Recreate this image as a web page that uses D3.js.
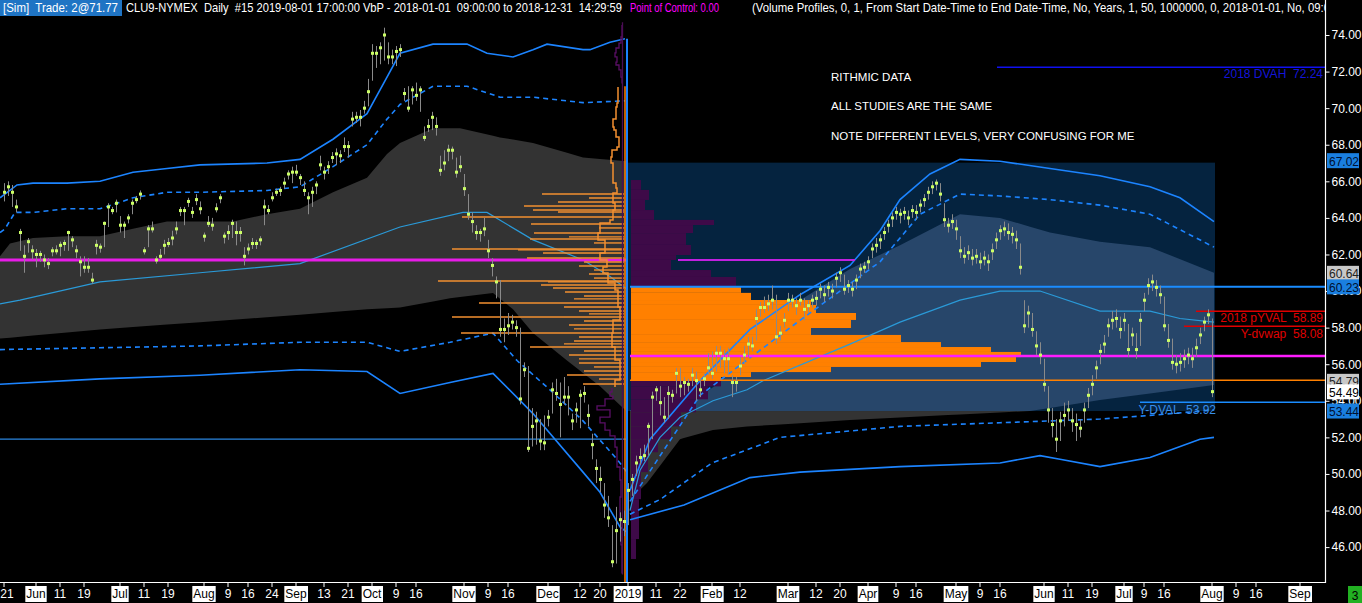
<!DOCTYPE html>
<html><head><meta charset="utf-8">
<script src="https://cdn.jsdelivr.net/npm/d3@7"></script>
<style>html,body{margin:0;padding:0;background:#000;overflow:hidden}text{font-family:"Liberation Sans",Arial,sans-serif}</style>
</head><body><svg id="c" width="1362" height="603"></svg>
<script>
// ---------- DATA ----------
const closes=[65.4,65.7,65.4,64.6,63.2,61.9,62.7,62.2,62.0,62.0,61.7,61.5,62.2,62.2,62.5,62.6,63.2,62.8,62.2,61.6,
61.3,61.3,60.6,62.5,62.4,63.7,64.6,64.4,64.8,63.6,63.6,64.0,64.8,65.0,65.3,62.2,63.4,63.4,61.7,61.9,
62.5,62.6,62.9,63.4,64.4,64.4,64.9,64.3,65.0,64.5,63.0,63.7,63.6,64.5,65.1,63.0,63.2,63.7,63.2,63.2,
61.9,62.3,62.6,62.6,62.8,64.6,64.4,65.1,65.4,65.5,65.9,66.4,66.5,66.5,66.2,65.5,65.1,65.4,65.8,66.9,
66.5,66.8,67.3,67.5,67.4,67.9,67.9,69.4,69.5,69.5,70.0,70.9,73.0,73.0,73.3,74.0,72.8,72.8,73.1,73.2,
70.8,70.0,71.0,70.7,71.0,68.4,69.0,69.5,69.0,66.6,67.0,67.7,67.7,66.5,66.8,65.6,64.2,63.8,63.2,63.2,
63.4,62.2,61.4,60.5,57.9,57.9,58.1,58.3,58.0,54.1,55.7,51.4,52.6,52.9,51.8,51.7,53.1,54.6,54.4,53.8,
54.2,54.2,52.9,53.5,54.3,54.4,53.2,51.6,50.3,49.7,48.3,47.6,45.2,46.9,47.5,47.4,49.1,49.7,50.6,50.9,
51.0,52.6,54.2,54.6,53.9,53.1,54.4,54.3,55.5,54.8,55.0,54.9,55.4,55.1,54.6,55.2,55.8,55.5,56.6,56.6,
56.3,56.3,55.0,55.0,55.9,56.5,57.1,57.0,58.5,59.1,59.1,59.3,59.5,57.5,57.7,58.4,59.5,59.5,59.2,59.5,
59.0,59.2,59.5,59.6,60.1,59.8,60.2,60.0,60.7,61.0,60.1,60.3,60.1,60.6,61.2,61.3,61.6,62.3,62.5,62.8,
63.2,63.6,64.0,64.3,64.2,64.3,64.0,64.4,64.3,64.7,65.0,65.4,65.7,65.9,65.3,63.9,63.6,63.8,63.4,62.2,
61.9,62.1,61.8,61.9,61.6,61.8,61.6,62.2,62.8,63.3,63.4,63.2,63.1,62.8,61.3,58.1,58.8,57.9,57.0,56.5,
54.9,53.5,52.7,51.9,52.9,53.2,53.5,52.9,52.7,52.5,53.5,54.3,54.9,55.8,56.7,57.1,58.1,58.4,58.5,57.9,
58.4,56.8,57.6,56.8,58.4,59.5,60.3,60.5,60.2,59.8,58.1,57.3,56.1,56.0,56.1,56.3,56.5,56.3,56.9,57.6,
58.3,58.7,54.5];
const highs=[65.9,66.0,65.8,65.0,63.4,62.5,62.9,62.5,62.3,62.2,62.0,61.8,62.4,62.5,62.7,62.8,63.3,63.0,62.5,61.9,
61.9,61.8,61.0,62.8,62.6,63.8,64.8,64.6,65.0,64.1,63.8,64.2,65.0,65.2,65.5,62.4,63.6,63.8,61.9,62.3,
62.8,62.9,63.3,63.8,64.6,64.6,65.1,64.6,65.3,64.9,63.2,64.1,64.0,64.8,65.3,63.2,63.6,63.9,63.8,63.5,
62.4,62.6,62.9,62.8,63.0,65.0,64.7,65.4,65.6,65.7,66.2,66.6,66.8,66.9,66.4,66.0,65.4,65.7,66.0,67.4,
66.8,67.1,67.6,67.8,67.7,68.4,68.2,69.8,69.8,69.9,70.4,71.6,73.5,73.4,73.6,74.4,73.6,73.2,73.4,73.5,
71.1,71.2,71.2,71.4,71.2,69.0,69.4,69.8,69.5,67.4,67.7,68.0,67.9,67.3,67.4,66.4,65.3,64.3,63.6,63.4,
64.0,62.8,61.8,60.8,60.6,58.5,58.8,58.7,58.4,58.0,56.1,55.9,53.6,53.4,53.0,53.2,53.5,55.0,55.2,55.0,
55.3,54.8,53.3,53.9,54.6,54.8,53.8,52.2,50.8,50.4,49.5,48.8,47.2,48.2,47.9,48.0,49.5,50.0,51.0,51.4,
51.6,52.8,54.5,54.8,54.8,54.2,54.8,54.6,55.8,55.8,55.3,55.2,55.8,55.6,55.2,55.5,56.6,56.7,57.0,57.0,
56.8,56.9,55.4,55.3,56.4,57.0,57.5,57.5,59.0,59.4,59.7,59.8,60.3,59.8,58.1,58.8,59.9,59.8,59.6,59.9,
59.6,59.5,59.8,60.0,60.4,60.3,60.5,60.4,61.0,61.3,60.9,60.6,60.5,60.9,61.5,61.6,61.9,62.6,62.9,63.1,
63.5,63.9,64.3,64.6,64.5,64.6,64.4,64.7,64.7,65.0,65.3,65.7,66.0,66.1,65.9,64.8,64.0,64.2,63.9,63.0,
62.4,62.5,62.3,62.3,62.1,62.2,62.0,62.6,63.2,63.6,63.8,63.7,63.5,63.3,62.6,59.5,59.2,58.8,57.8,57.2,
56.3,54.8,53.6,53.0,53.4,53.9,54.0,53.6,53.3,53.0,53.9,54.7,55.4,56.2,57.1,57.6,58.5,58.9,59.0,58.6,
58.8,58.2,58.0,57.7,58.8,59.9,60.7,60.9,60.6,60.3,59.7,58.2,57.4,56.5,56.6,56.8,56.9,56.9,57.4,58.0,
58.6,59.0,58.5];
const lows=[64.9,65.2,64.6,64.3,62.2,61.0,62.1,61.7,61.3,61.6,61.3,61.2,61.9,62.0,61.9,62.2,62.2,62.4,61.8,60.8,
61.0,61.0,60.4,62.0,62.1,62.4,63.5,64.2,64.3,63.2,62.9,63.7,64.2,64.8,65.0,62.0,62.4,63.2,61.5,61.7,
62.0,62.4,62.5,63.1,64.1,63.6,64.6,64.0,64.7,64.2,62.7,63.5,63.3,64.3,64.8,62.6,62.8,62.9,62.5,62.7,
61.4,62.0,62.3,62.3,62.5,63.6,64.2,64.9,65.2,65.2,65.6,66.1,65.9,66.3,65.8,65.2,64.2,64.6,65.3,66.6,
66.1,66.4,67.0,66.9,67.0,67.6,67.3,69.0,69.2,69.0,69.7,70.1,71.5,72.2,72.4,72.6,72.4,72.4,72.3,72.8,
70.4,69.8,70.2,70.4,69.8,68.2,68.7,68.8,68.5,66.3,66.6,67.1,67.2,66.2,66.5,65.2,63.9,63.2,62.8,62.7,
63.0,61.8,60.8,59.6,57.5,57.2,57.6,57.9,57.5,53.8,55.3,51.2,51.5,51.6,51.3,51.3,52.6,53.3,54.0,52.0,
53.8,53.2,52.4,52.8,52.5,53.9,52.6,50.8,49.5,49.0,47.6,47.1,44.9,45.1,46.3,46.6,47.2,48.8,49.9,50.5,
50.7,51.0,51.9,54.0,53.2,52.8,53.0,53.9,54.4,54.2,54.3,54.5,54.8,54.0,54.2,54.8,55.4,55.2,55.6,55.8,
55.5,55.4,54.2,54.5,55.4,56.0,56.4,56.7,57.3,58.6,58.8,58.9,59.0,57.1,57.3,58.0,58.9,59.1,58.7,59.2,
58.4,58.8,59.1,59.2,59.6,59.4,59.7,59.6,60.2,60.5,59.8,59.9,59.7,60.1,60.7,61.0,61.2,61.8,62.1,62.3,
62.8,63.2,63.5,63.9,63.7,63.9,63.6,64.0,63.9,64.3,64.6,65.0,65.3,65.5,64.9,63.5,63.2,63.4,62.8,61.8,
61.5,61.7,61.4,61.5,61.2,61.4,61.1,61.7,62.3,62.8,63.0,62.8,62.6,62.3,60.9,57.7,58.0,57.5,56.5,56.0,
54.5,52.8,52.0,51.2,51.8,52.6,52.9,52.3,51.8,52.0,52.8,53.6,54.3,55.2,56.0,56.6,57.5,57.9,58.0,57.4,
57.8,56.4,57.0,56.3,57.0,58.9,59.8,60.0,59.7,59.3,57.8,56.9,55.7,55.5,55.6,55.8,56.0,55.8,56.4,57.1,
57.8,58.2,54.2];

// x-axis tick labels (bar index of each label)
const tickText=["21","Jun","11","19","Jul","11","19","Aug","9","16","24","Sep","13","21","Oct","9","16","Nov","9","16","Dec","12","20","2019","11","22","Feb","12","Mar","12","20","Apr","9","16","May","9","16","Jun","11","19","Jul","9","16","Aug","9","16","Sep"];
const tickIdx=[0,8,14,20,29,35,41,50,56,61,67,73,80,86,92,98,103,115,121,126,136,144,149,156,163,169,177,184,196,203,209,216,223,228,238,244,249,260,266,272,280,285,290,302,308,313,324];
const monthLabels=["Jun","Jul","Aug","Sep","Oct","Nov","Dec","2019","Feb","Mar","Apr","May"];
const priceTicks=[46,48,50,52,54,56,58,60,62,64,66,68,70,72,74];

// 2018 study bands: [bar index, price]
const upper2018=[[-1,65.1],[3.25,65.8],[7.25,65.9],[15.75,65.9],[24,66.0],[32.25,66.5],[40.75,66.7],[49,66.9],[65.75,67.0],[74,67.2],[82.25,68.3],[90.75,69.7],[95.75,71.7],[99,73.0],[107.25,73.5],[115.75,73.5],[120.75,73.0],[127.25,72.8],[132.25,73.2],[135.75,73.5],[144.75,73.2],[146.5,73.2],[151.5,73.6],[155.25,73.8]];
const upperDash2018=[[-1,63.2],[0.25,63.4],[2.75,64.3],[7.25,64.3],[15.75,64.5],[24,64.5],[28.25,64.8],[32.25,65.1],[40.75,65.4],[49,65.4],[65.75,65.5],[74,65.7],[82.25,66.8],[90.75,68.0],[95.75,69.4],[99,70.2],[107.25,71.2],[115.75,71.2],[124,70.6],[132.25,70.6],[144.75,70.3],[155.25,70.4]];
const grayTop2018=[[-1,61.9],[1.5,62.6],[7.25,62.9],[15.75,63.0],[24,63.0],[32.25,63.4],[40.75,63.8],[57.25,63.8],[65.75,64.2],[74,64.5],[82.25,65.4],[90.75,66.2],[95.75,67.5],[99,68.1],[107.25,68.9],[114,68.9],[124,68.4],[132.25,68.1],[144.75,67.3],[155.75,67.1]];
const grayBot2018=[[-1,57.4],[24,57.9],[49,58.3],[74,58.7],[90.75,59.0],[99,59.1],[111.5,59.6],[122.25,59.9],[127.25,59.0],[132.25,57.7],[140.75,56.2],[149,54.8],[155.75,53.4]];
const lowerDash2018=[[-1,56.8],[24,56.9],[49,57.0],[74,57.2],[90.75,57.2],[99,56.7],[111.5,57.2],[122.25,57.7],[128.25,56.2],[136.5,54.6],[144.75,52.9],[153.25,50.8],[155.75,50.1]];
const lower2018=[[-1,54.9],[24,55.2],[49,55.4],[74,55.7],[90.75,55.6],[99,54.4],[111.5,55.0],[122.25,55.5],[132.25,53.3],[144.75,50.1],[149,49.0],[154,47.1],[155.75,46.8]];
const vwap2018=[[-1,59.3],[4,59.5],[24,60.5],[49,61.0],[74,61.5],[99,63.5],[114.75,64.3],[120.75,64.3],[132.25,62.8],[144.75,61.7],[151.5,60.8],[155.75,60.1]];

// 2019 study bands
const upper2019=[[156.5,49.1],[161.5,51.9],[174,55.1],[186.5,57.9],[199,59.8],[211.5,61.4],[219,63.3],[224,65.0],[231.5,66.4],[239,67.2],[249,67.1],[261.5,66.7],[274,66.3],[286.5,65.7],[294,65.1],[302.5,63.8]];
const upperDash2019=[[156.5,48.5],[174,54.3],[199,58.4],[219,61.6],[229,64.2],[239,65.3],[249,65.2],[261.5,65.0],[274,64.7],[286.5,64.2],[302.5,62.4]];
const grayTop2019=[[156.5,53.5],[169.75,53.6],[179,55.0],[189,57.9],[199,59.5],[211.5,61.2],[224,62.5],[239,64.2],[249,64.0],[261.5,63.2],[274,62.7],[286.5,62.4],[302.5,61.0]];
const grayBot2019=[[156.5,48.6],[160.75,49.5],[169,51.9],[177.25,52.4],[185.75,52.6],[194,52.7],[211.5,52.95],[236,53.22],[256.5,53.44],[274,54.04],[302.5,54.86]];
const lowerDash2019=[[156.5,47.8],[164,48.6],[177,50.6],[194,52.0],[224,52.6],[249,52.8],[274,53.0],[286.5,53.2],[302.5,53.5]];
const lower2019=[[156.5,47.5],[170,48.3],[186.5,49.8],[199,50.1],[224,50.4],[249,50.6],[259,51.0],[264,50.8],[274,50.4],[286.5,50.9],[299,51.9],[302.5,52.0]];
const vwap2019=[[156.5,48.0],[159,50.2],[164,52.0],[169,53.1],[177.25,54.0],[185.75,54.6],[189.75,55.1],[211.5,57.1],[224,58.3],[239,59.5],[249,60.0],[259,60.0],[274,58.9],[286.5,58.9],[294,58.5],[302.5,58.3]];

// 2019 volume profile (row top price, relative volume)
const prof19Price=[66.07,65.53,64.98,64.43,63.89,63.61,63.17,62.52,61.97,61.70,61.15,60.77,
60.23,59.90,59.51,59.24,58.80,58.42,57.98,57.60,57.21,56.94,56.67,56.39,56.12,55.85,55.57,55.30,
55.12,54.79,54.08,53.37,52.60,51.90,51.19,50.10,48.62,46.44,45.35];
const prof19Vol=[10,18,14,23,83,62,55,60,45,40,80,105,
110,120,180,185,225,220,180,270,310,360,390,385,350,200,120,90,
90,77,65,50,40,27,17,10,8,5,0];

// 2018 volume profile: outline (price, relative volume) and individual heavy rows
const prof18Price=[71.16,70.72,70.28,70.06,69.41,68.97,68.81,68.42,67.88,67.71,67.33,67.00,66.62,66.24,65.91,65.63,65.36,64.82,64.43,63.89,
63.72,63.17,62.79,62.08,61.70,61.32,60.99,60.44,60.06,59.13,58.42,57.71,56.94,56.23,55.14,54.75];
const prof18Vol=[6,6,7,8,11,10,8,5,7,12,13,11,11,11,8,7,11,9,11,14,
24,26,19,24,17,21,16,9,6,4,11,12,9,4,9,9];
const rows18Price=[65.31,65.09,64.87,64.65,64.43,64.32,64.05,63.67,63.45,63.17,62.96,62.85,62.63,62.30,62.25,62.08,61.81,61.59,61.37,61.15,
60.93,60.71,60.55,60.50,60.33,60.17,59.95,59.73,59.57,59.35,59.13,58.91,58.75,58.58,58.36,58.14,57.93,57.71,57.49,57.27,
57.11,56.94,56.72,56.50,56.29,56.07,55.85,55.63,55.41,55.19,54.92];
const rows18Vol=[82,35,66,100,91,66,162,93,25,90,55,94,30,172,106,81,97,40,45,30,
35,30,186,76,83,71,59,40,50,145,60,45,35,172,40,55,50,163,45,50,
60,94,40,55,45,45,30,40,57,25,41];
const purple18TopPrice=[74.55,73.89,73.56,73.29,73.02,72.80,72.52,72.36,72.09,71.70,71.38];
const purple18TopVol=[2,3,5,8,9,7,8,5,3,2,1];
const purple18LowPrice=[54.70,54.48,54.26,54.10,53.72,53.50,53.11,52.79,52.40,52.08,51.47,50.38,49.67,48.74,47.48,46.12,44.59];
const purple18LowVol=[12,14,11,19,27,14,24,19,14,9,7,4,3,4,3,2,1];

// levels
const VA_HIGH=67.02, VA_LOW=53.44, VAH19=60.23, VAL19=55.12, POC19=56.45;
const POC18=61.70, DVAH18=72.24, PYVAL18=58.89, YDVWAP=58.08, YDVAL=53.92, LOW_LINE18=51.90;
const LAST_PRICE=54.49;

// ---------- DRAW ----------
const W=1362,H=603, PR=1325, PB=582;
const svg=d3.select("#c");
const x=d3.scaleLinear().domain([0,302]).range([4,1212]);
const y=d3.scaleLinear().domain([46,74]).range([547.1,35]);
const volX=d3.scaleLinear().domain([0,100]).range([0,100]);
const splitIdx=155.75, vaEnd=302.75;

svg.append("rect").attr("width",W).attr("height",H).attr("fill","#000");
const defs=svg.append("defs");
defs.append("clipPath").attr("id","plot").append("rect").attr("x",0).attr("y",0).attr("width",PR).attr("height",PB);
defs.append("clipPath").attr("id","box").append("rect")
  .attr("x",x(splitIdx)).attr("y",y(VA_HIGH)).attr("width",x(vaEnd)-x(splitIdx)).attr("height",y(VA_LOW)-y(VA_HIGH));
const g=svg.append("g").attr("clip-path","url(#plot)");

function band(top,bot){
  const ta=d3.area().x(d=>x(d[0])).y0(d=>y(d[2])).y1(d=>y(d[1]));
  const botX=bot.map(d=>d[0]), botY=bot.map(d=>d[1]);
  const topX=top.map(d=>d[0]), topY=top.map(d=>d[1]);
  const xs=Array.from(new Set(topX.concat(botX))).sort((a,b)=>a-b);
  const interp=(X,Y,v)=>{let i=d3.bisectLeft(X,v);if(i<=0)return Y[0];if(i>=X.length)return Y[Y.length-1];const t=(v-X[i-1])/(X[i]-X[i-1]);return Y[i-1]+t*(Y[i]-Y[i-1]);};
  return ta(xs.map(v=>[v,interp(topX,topY,v),interp(botX,botY,v)]));
}
const line=d3.line().x(d=>x(d[0])).y(d=>y(d[1]));

g.append("path").attr("d",band(grayTop2018,grayBot2018)).attr("fill","#333333");
g.append("path").attr("d",band(grayTop2019,grayBot2019)).attr("fill","#333333");
g.append("rect").attr("x",x(splitIdx)).attr("y",y(VA_HIGH)).attr("width",x(vaEnd)-x(splitIdx)).attr("height",y(VA_LOW)-y(VA_HIGH)).attr("fill","#05233f");
g.append("g").attr("clip-path","url(#box)").append("path").attr("d",band(grayTop2019,grayBot2019)).attr("fill","#27466a");

// 2019 volume profile
const p19x=x(splitIdx)+4;
for(let i=0;i<prof19Price.length-1;i++){
  const top=prof19Price[i], bot=prof19Price[i+1];
  const inVA= top<=VAH19+0.001 && bot>=VAL19-0.001;
  g.append("rect").attr("x",p19x).attr("y",y(top)).attr("width",volX(prof19Vol[i])).attr("height",y(bot)-y(top))
   .attr("fill",inVA?"#ff8000":"#3e0a48");
}

function drawLine(data,color,w,dash){const p=g.append("path").attr("d",line(data)).attr("fill","none").attr("stroke",color).attr("stroke-width",w);if(dash)p.attr("stroke-dasharray",dash);}
drawLine(vwap2018,"#2a9ad8",1.2);
drawLine(vwap2019,"#2a9ad8",1.2);
drawLine(upper2018,"#1c84ff",1.6);
drawLine(lower2018,"#1c84ff",1.6);
drawLine(upperDash2018,"#1c84ff",1.6,"5,4");
drawLine(lowerDash2018,"#1c84ff",1.6,"5,4");
drawLine(upper2019,"#1c84ff",1.6);
drawLine(lower2019,"#1c84ff",1.6);
drawLine(upperDash2019,"#1c84ff",1.6,"5,4");
drawLine(lowerDash2019,"#1c84ff",1.6,"5,4");

const xr=x.invert(PR);
function level(p,i0,i1,color,w){g.append("line").attr("x1",x(i0)).attr("x2",x(i1)).attr("y1",y(p)).attr("y2",y(p)).attr("stroke",color).attr("stroke-width",w);}
level(POC18,-1,splitIdx,"#e81ce8",3);
level(POC18,168.5,212.75,"#c020e0",2);
level(LOW_LINE18,-1,splitIdx,"#2a86e0",1.2);
level(VAH19,156.5,xr,"#1a8cff",2);
level(POC19,156.5,xr,"#ff1cff",2.5);
level(VAL19,156.5,xr,"#ff8000",1.5);
level(YDVAL,284,xr,"#1a8cff",1.5);
level(PYVAL18,298,xr,"#e00000",1.5);
level(YDVWAP,295,xr,"#e00000",1.5);
level(DVAH18,248.25,xr,"#1010f0",1.5);

// 2018 profile (right-aligned at split)
const p18R=x(splitIdx)-3;
const stepV=d3.line().x(d=>d[0]).y(d=>d[1]).curve(d3.curveStepBefore);
function outline(prices,vols,color,w){
  g.append("path").attr("d",stepV(prices.map((p,i)=>[p18R-volX(vols[i]),y(p)]))).attr("fill","none").attr("stroke",color).attr("stroke-width",w);
}
outline(prof18Price,prof18Vol,"#f39030",1.5);
rows18Price.forEach((p,i)=>{
  g.append("line").attr("x1",p18R-volX(rows18Vol[i])).attr("x2",p18R).attr("y1",y(p)).attr("y2",y(p)).attr("stroke","#f39030").attr("stroke-width",1.4);
});
outline(purple18TopPrice,purple18TopVol,"#5a0f66",1.3);
outline(purple18LowPrice,purple18LowVol,"#5a0f66",1.3);
g.append("line").attr("x1",p18R-1.5).attr("x2",p18R-1.5).attr("y1",y(74.7)).attr("y2",y(44.5)).attr("stroke","#4a0d55").attr("stroke-width",1.3);
g.append("line").attr("x1",p18R+1).attr("x2",p18R+1).attr("y1",y(71.2)).attr("y2",PB).attr("stroke","#ff8000").attr("stroke-width",1.5);
g.append("line").attr("x1",x(splitIdx)).attr("x2",x(splitIdx)).attr("y1",y(73.8)).attr("y2",PB).attr("stroke","#1a82ff").attr("stroke-width",2);

// price bars
const bars=g.append("g");
closes.forEach((c,i)=>{
  bars.append("line").attr("x1",x(i)+0.5).attr("x2",x(i)+0.5).attr("y1",y(highs[i])).attr("y2",y(lows[i])).attr("stroke","#8a8a8a").attr("stroke-width",1);
});
closes.forEach((c,i)=>{
  bars.append("rect").attr("x",x(i)-1).attr("y",y(c)-1.5).attr("width",3).attr("height",3).attr("fill","#ccff66");
});

function rtext(t,xx,yy,color,anchor){g.append("text").attr("x",xx).attr("y",yy).attr("fill",color).attr("font-size",12).attr("text-anchor",anchor||"end").style("white-space","pre").text(t);}
rtext("2018 DVAH  72.24",1323,y(DVAH18)+11,"#1414d8");
rtext("2018 pYVAL  58.89",1323,y(PYVAL18)+11,"#e00000");
rtext("Y-dvwap  58.08",1323,y(YDVWAP)+12,"#e00000");
rtext("Y-DVAL  53.92",1216,y(YDVAL)+12,"#3a8ee8");

[["RITHMIC DATA",81],["ALL STUDIES ARE THE SAME",110],["NOTE DIFFERENT LEVELS, VERY CONFUSING FOR ME",140]].forEach(d=>{
  g.append("text").attr("x",831).attr("y",d[1]).attr("fill","#ffffff").attr("font-size",11.5).text(d[0]);
});

// header
const hdr=svg.append("g").attr("clip-path","url(#plot)");
hdr.append("rect").attr("x",0).attr("y",0).attr("width",122).attr("height",16).attr("fill","#1f74c4");
hdr.append("text").attr("x",3).attr("y",12).attr("fill","#fff").attr("font-size",13).style("white-space","pre").attr("textLength",115).attr("lengthAdjust","spacingAndGlyphs").text("[Sim]  Trade: 2@71.77");
hdr.append("text").attr("x",126).attr("y",12).attr("fill","#fff").attr("font-size",13).style("white-space","pre").attr("textLength",496).attr("lengthAdjust","spacingAndGlyphs").text("CLU9-NYMEX  Daily  #15 2019-08-01 17:00:00 VbP - 2018-01-01  09:00:00 to 2018-12-31  14:29:59");
hdr.append("text").attr("x",630).attr("y",12).attr("fill","#ff00ff").attr("font-size",13).attr("textLength",89).attr("lengthAdjust","spacingAndGlyphs").text("Point of Control: 0.00");
hdr.append("text").attr("x",752).attr("y",12).attr("fill","#fff").attr("font-size",13).attr("textLength",600).attr("lengthAdjust","spacingAndGlyphs").text("(Volume Profiles, 0, 1, From Start Date-Time to End Date-Time, No, Years, 1, 50, 1000000, 0, 2018-01-01, No, 09:00:00");

svg.append("line").attr("x1",PR+0.5).attr("x2",PR+0.5).attr("y1",0).attr("y2",PB+1).attr("stroke","#fff").attr("stroke-width",1.2);
svg.append("line").attr("x1",0).attr("x2",PR+1).attr("y1",PB+0.5).attr("y2",PB+0.5).attr("stroke","#fff").attr("stroke-width",1.2);

const ya=svg.append("g").attr("transform",`translate(${PR+0.5},0)`).call(d3.axisRight(y).tickValues(priceTicks).tickFormat(d3.format(".2f")).tickSize(4).tickPadding(2));
ya.select(".domain").remove();
ya.selectAll("line").attr("stroke","#fff");
ya.selectAll("text").attr("fill","#fff").attr("font-size",12).attr("font-family","Liberation Sans, Arial, sans-serif");

function marker(p,label,bg,fg,dy){
  const yy=y(p)+(dy||0);
  svg.append("rect").attr("x",PR+2).attr("y",yy-7.5).attr("width",32).attr("height",15).attr("fill",bg);
  svg.append("text").attr("x",PR+4).attr("y",yy+5).attr("fill",fg).attr("font-size",12).text(label);
}
marker(60.64,"60.64","#c8c8c8","#222",-6);
marker(VAH19,"60.23","#1a7fe0","#001030",0);
marker(VA_HIGH,"67.02","#1a7fe0","#001030",-2);
marker(54.79,"54.79","#c8c8c8","#222",-5);
marker(LAST_PRICE,"54.49","#ffffff","#000",0);
marker(VA_LOW,"53.44","#1a7fe0","#001030",0);

const xa=svg.append("g");
tickText.forEach((t,i)=>{
  const xx=x(tickIdx[i]);
  xa.append("line").attr("x1",xx).attr("x2",xx).attr("y1",PB+1).attr("y2",PB+5).attr("stroke","#fff");
  const isM=monthLabels.includes(t);
  const tx=xa.append("text").attr("x",Math.max(xx,7)).attr("y",598).attr("text-anchor","middle").attr("font-size",12).attr("fill",isM?"#000":"#fff").text(t);
  if(isM){const bb=tx.node().getBBox();xa.insert("rect","text").attr("x",bb.x-1).attr("y",586).attr("width",bb.width+2).attr("height",16).attr("fill","#fff");}
});
svg.append("rect").attr("x",1348).attr("y",586).attr("width",14).attr("height",17).attr("fill","#22b022");
svg.append("text").attr("x",1355).attr("y",600).attr("text-anchor","middle").attr("font-size",12).attr("fill","#000").text("3");
</script></body></html>
